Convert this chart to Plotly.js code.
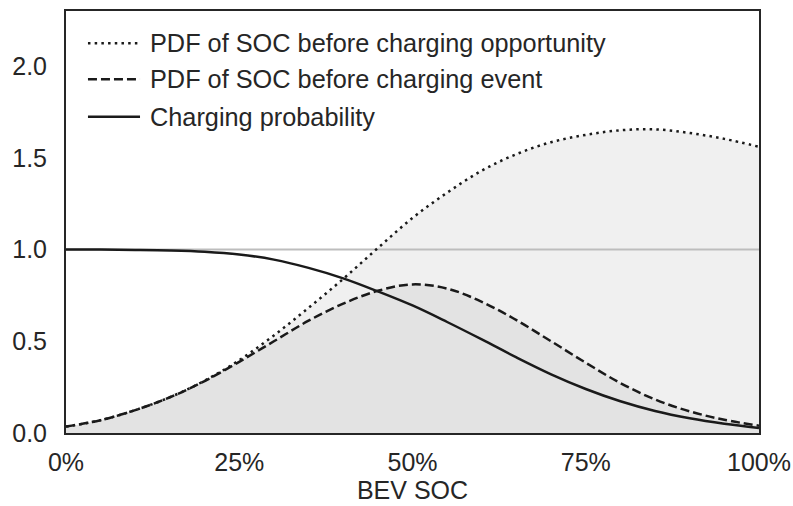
<!DOCTYPE html>
<html>
<head>
<meta charset="utf-8">
<script src="https://cdn.plot.ly/plotly-3.0.1.min.js"></script>
<style>html,body{margin:0;padding:0;background:#fff;}#chart{width:793px;height:506px;}</style>
</head>
<body>
<div id="chart"></div>
<script>
// BEV SOC (fraction 0..1)
const soc = [0.00,0.05,0.10,0.15,0.20,0.25,0.30,0.35,0.40,0.45,0.50,0.55,0.60,0.65,0.70,0.75,0.80,0.85,0.90,0.95,1.00];
// PDF of SOC before charging opportunity (dotted)
const pdfOpportunity = [0.035,0.07,0.125,0.195,0.285,0.397,0.532,0.682,0.84,1.008,1.172,1.31,1.43,1.52,1.585,1.625,1.65,1.655,1.635,1.603,1.56];
// PDF of SOC before charging event (dashed)
const pdfEvent = [0.035,0.07,0.125,0.195,0.283,0.388,0.50,0.612,0.705,0.775,0.81,0.787,0.715,0.615,0.50,0.383,0.272,0.183,0.118,0.072,0.04];
// Charging probability (solid)
const chargeProb = [1.000,0.9995,0.998,0.995,0.988,0.973,0.945,0.90,0.843,0.772,0.695,0.605,0.51,0.412,0.32,0.24,0.173,0.12,0.08,0.05,0.027];
// Reference line at 1.0
const refX = [0, 1];
const refY = [1, 1];
const seriesNames = ["PDF of SOC before charging opportunity","PDF of SOC before charging event","Charging probability"];
const xTickVals = [0,0.25,0.5,0.75,1];
const xTickText = ["0%","25%","50%","75%","100%"];
const yTickVals = [0,0.5,1,1.5,2];
const yTickText = ["0.0","0.5","1.0","1.5","2.0"];

const FONT = "Liberation Sans, Arial, Helvetica, sans-serif";
const TXT = "#262626";
const LINE = "#1a1a1a";
const LW = 2.5;
const dashes = ["2.5px,4.2px","9px,4px","solid"];

const traces = [
  {x: soc, y: pdfOpportunity, type:"scatter", mode:"lines", fill:"tozeroy", fillcolor:"#f0f0f0",
   line:{width:0, shape:"spline", color:"rgba(0,0,0,0)"}, hoverinfo:"skip", showlegend:false},
  {x: soc, y: pdfEvent, type:"scatter", mode:"lines", fill:"tozeroy", fillcolor:"#e3e3e3",
   line:{width:0, shape:"spline", color:"rgba(0,0,0,0)"}, hoverinfo:"skip", showlegend:false},
  {x: refX, y: refY, type:"scatter", mode:"lines", line:{width:2, color:"#bdbdbd"}, showlegend:false, hoverinfo:"skip"},
  {x: soc, y: pdfOpportunity, name: seriesNames[0], type:"scatter", mode:"lines",
   line:{width:LW, color:LINE, dash:dashes[0], shape:"spline"}, showlegend:false},
  {x: soc, y: pdfEvent, name: seriesNames[1], type:"scatter", mode:"lines",
   line:{width:LW, color:LINE, dash:dashes[1], shape:"spline"}, showlegend:false},
  {x: soc, y: chargeProb, name: seriesNames[2], type:"scatter", mode:"lines",
   line:{width:LW, color:LINE, dash:dashes[2], shape:"spline"}, showlegend:false}
];

// manual legend
const legRowsY = [0.9235, 0.838, 0.7495];
const shapes = [];
const annotations = [];
for (let i = 0; i < 3; i++) {
  shapes.push({type:"line", xref:"paper", yref:"paper", x0:0.0317, x1:0.1068, y0:legRowsY[i], y1:legRowsY[i],
    line:{color:LINE, width:LW, dash:dashes[i]}});
  annotations.push({xref:"paper", yref:"paper", x:0.118, y:legRowsY[i], xanchor:"left", yanchor:"middle",
    text: seriesNames[i], showarrow:false, font:{family:FONT, size:25.3, color:TXT}});
}

const layout = {
  width: 793, height: 506,
  margin: {l:66, r:34, t:11, b:73, pad:0},
  paper_bgcolor:"#ffffff", plot_bgcolor:"#ffffff",
  font:{family:FONT, size:25, color:TXT},
  showlegend:false,
  xaxis:{range:[0,1], tickvals:xTickVals, ticktext:xTickText, showgrid:false, zeroline:false,
    showline:true, mirror:true, linecolor:"#262626", linewidth:2, ticks:"", ticklabelstandoff:6,
    tickfont:{family:FONT, size:25, color:TXT},
    title:{text:"BEV SOC", font:{family:FONT, size:25, color:TXT}, standoff:5}},
  yaxis:{range:[0,2.3], tickvals:yTickVals, ticktext:yTickText, showgrid:false, zeroline:false,
    showline:true, mirror:true, linecolor:"#262626", linewidth:2, ticks:"", ticklabelstandoff:12,
    tickfont:{family:FONT, size:25, color:TXT}},
  shapes: shapes,
  annotations: annotations
};

Plotly.newPlot("chart", traces, layout, {displayModeBar:false, staticPlot:true});
</script>
</body>
</html>
